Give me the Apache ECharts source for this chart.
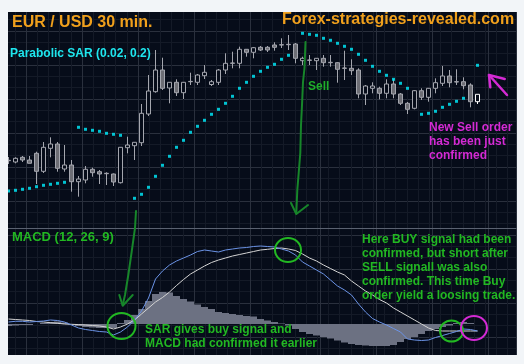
<!DOCTYPE html>
<html><head><meta charset="utf-8">
<script src="https://cdn.jsdelivr.net/npm/echarts/dist/echarts.min.js"></script>
<style>html,body{margin:0;padding:0;background:#f2f5f8;}#c{width:524px;height:364px;}</style>
</head><body><div id="c"></div>
<script>
// ---- DATA (EUR/USD 30 min) ----
const categories = Array.from({length: 73}, (_, i) => 'Bar ' + (i + 1));
const opens = [1.29673,1.29660,1.29707,1.29680,1.29747,1.29567,1.29797,1.29840,1.29590,1.29630,
1.29463,1.29480,1.29587,1.29563,1.29547,1.29540,1.29453,1.29803,1.29823,1.29853,
1.30140,1.30363,1.30580,1.30400,1.30457,1.30353,1.30463,1.30457,1.30523,1.30435,
1.30457,1.30580,1.30647,1.30647,1.30787,1.30757,1.30807,1.30807,1.30830,1.30830,
1.30837,1.30840,1.30673,1.30680,1.30673,1.30697,1.30653,1.30653,1.30597,1.30597,
1.30580,1.30340,1.30397,1.30397,1.30347,1.30440,1.30340,1.30247,1.30197,1.30373,
1.30307,1.30397,1.30447,1.30520,1.30463,1.30463,1.30430,1.30263];
const closes = [1.29677,1.29697,1.29680,1.29647,1.29567,1.29807,1.29840,1.29597,1.29630,1.29463,
1.29490,1.29587,1.29553,1.29540,1.29543,1.29460,1.29807,1.29830,1.29857,1.30147,
1.30370,1.30580,1.30397,1.30457,1.30353,1.30457,1.30466,1.30530,1.30557,1.30463,
1.30580,1.30647,1.30650,1.30787,1.30757,1.30803,1.30780,1.30780,1.30807,1.30833,
1.30833,1.30697,1.30697,1.30677,1.30697,1.30653,1.30657,1.30587,1.30600,1.30573,
1.30340,1.30420,1.30420,1.30347,1.30440,1.30340,1.30247,1.30187,1.30373,1.30307,
1.30397,1.30453,1.30520,1.30453,1.30460,1.30423,1.30263,1.30337];
const highs = [1.29710,1.29707,1.29720,1.29720,1.29763,1.29860,1.29907,1.29860,1.29830,1.29680,
1.29520,1.29620,1.29603,1.29580,1.29557,1.29545,1.29810,1.29913,1.29860,1.30240,
1.30530,1.30780,1.30703,1.30460,1.30487,1.30460,1.30553,1.30540,1.30630,1.30480,
1.30590,1.30747,1.30763,1.30813,1.30790,1.30810,1.30820,1.30820,1.30857,1.30897,
1.30930,1.30850,1.30713,1.30730,1.30700,1.30730,1.30730,1.30660,1.30773,1.30687,
1.30597,1.30430,1.30457,1.30413,1.30487,1.30487,1.30350,1.30260,1.30380,1.30397,
1.30400,1.30497,1.30620,1.30580,1.30587,1.30507,1.30447,1.30337];
const lows = [1.29640,1.29647,1.29660,1.29647,1.29440,1.29550,1.29707,1.29563,1.29563,1.29363,
1.29313,1.29447,1.29513,1.29440,1.29430,1.29420,1.29445,1.29747,1.29680,1.29820,
1.30120,1.30353,1.30380,1.30247,1.30320,1.30290,1.30430,1.30430,1.30490,1.30420,
1.30430,1.30540,1.30597,1.30597,1.30713,1.30697,1.30770,1.30760,1.30773,1.30800,
1.30780,1.30647,1.30630,1.30630,1.30580,1.30613,1.30613,1.30453,1.30480,1.30530,
1.30297,1.30230,1.30347,1.30287,1.30297,1.30297,1.30230,1.30140,1.30187,1.30280,
1.30263,1.30347,1.30420,1.30407,1.30430,1.30387,1.30207,1.30240];
// Parabolic SAR (0.02, 0.2)
const sar = [1.29370,1.29377,1.29387,1.29397,1.29413,1.29427,1.29437,1.29447,1.29457,null,
1.30007,1.29987,1.29977,1.29967,1.29947,1.29937,1.29927,null,1.29297,1.29337,
1.29407,1.29517,1.29627,1.29717,1.29807,1.29877,1.29957,1.30017,1.30077,1.30137,
1.30187,1.30247,1.30317,1.30397,1.30457,1.30517,1.30567,1.30607,1.30637,1.30687,
1.30727,null,1.30947,1.30937,1.30927,1.30897,1.30877,1.30847,1.30817,1.30787,
1.30737,1.30677,1.30617,1.30567,1.30527,1.30487,1.30447,1.30397,null,1.30137,
1.30147,1.30167,1.30207,1.30237,1.30267,1.30297,null,1.30627];
// MACD (12, 26, 9) in points (1 point = 0.00001)
const macdMain = [2,2.7,2.7,2,2.5,3,4,3.5,2,-1,
-4,-5.5,-6.5,-7.5,-8,-11,-8,-3,4,13,
26,45,53,59,63,66,69,72.5,74,73,
72,74,75,76,76.5,77.5,78,77.5,77,75,
73,69,62,58,54,50,44,38,34,29,
20,12,5.5,2,-1,-4.5,-8,-15,-16,-16.5,
-16,-13.5,-11.5,-9.5,-7.5,-5,-5.5,-7];
const macdSignal = [5,4.5,4,3.5,2.5,2,1.3,0.7,0,-0.3,
-0.6,-1,-1.5,-2,-3,-5,-3,0,4,10,
16,22,26.5,32,38.5,44.5,50,54,58,61.5,
64,66,68,69.5,71,72.5,74,74.7,75.5,76,
75,73.5,70,66,63,59,55.5,52,49,43,
38,33,29,24.5,21,16,12,8,4,0,
-4,-6.5,-7,-7,-7,-7,-7,-7];
const macdHist = [-2,-1.5,-1,-1,0,1,2,2.5,1.5,-0.5,
-2,-3,-3.5,-4,-4,-4,1,4,9,15,
23,30,32,31.5,28,25,22.5,19.5,17,15,
12,11,10,9,8,7.5,5,3.5,2,0.5,
-1.5,-5,-8,-10,-11.5,-13,-14.5,-16.5,-18.5,-20,
-21,-21.5,-22,-22,-22,-21,-18,-15,-13,-10,
-7,-5,-3,-1.5,1,2,1,0];

// ---- STYLE ----
const PANEL = '#060c19', PAGE = '#f2f5f8';
const MINOR = '#141a27', MAJOR = '#2a303d';
const GREEN = '#22b822', DKGREEN = '#17862a', MAGENTA = '#d42ad4', ORANGE = '#f0a01c';
const FONT = '"Liberation Sans", Arial, sans-serif';
const majorBars = new Set([3, 11, 19, 27, 35, 45, 53, 61, 69]);

const candleData = opens.map((o, i) => {
  const v = [o, closes[i], lows[i], highs[i]];
  if (i === opens.length - 1) return {value: v, itemStyle: {borderColor: '#ffffff', borderColor0: '#ffffff', color: PANEL, color0: PANEL}};
  return v;
});

const chart = echarts.init(document.getElementById('c'), null, {renderer: 'canvas'});
const hidden = {show: false};
const catAxisCommon = {
  type: 'category', data: categories, boundaryGap: true, z: 1,
  axisTick: hidden, axisLabel: hidden,
  splitLine: {show: true, interval: (idx) => majorBars.has(idx), lineStyle: {color: MAJOR, width: 1}}
};
function txt(text, x, y, fill, size, extra) {
  return Object.assign({type: 'text', z: 50, style: Object.assign({
    text, x, y, fill, font: 'bold ' + size + 'px ' + FONT, verticalAlign: 'middle', align: 'left'
  }, extra || {})});
}
function pline(points, stroke, w) {
  return {type: 'polyline', z: 50, shape: {points}, style: {stroke, lineWidth: w, fill: null, lineJoin: 'round', lineCap: 'round'}};
}
function ell(cx, cy, rx, ry, stroke) {
  return {type: 'ellipse', z: 50, shape: {cx, cy, rx, ry}, style: {stroke, lineWidth: 2, fill: null}};
}

chart.setOption({
  backgroundColor: PANEL,
  animation: false,
  grid: [
    {left: 5, top: 12, width: 511, height: 216},
    {left: 5, top: 228, width: 511, height: 127},
    {left: 3.6, top: 8.3333, width: 515.2, height: 351.3333}
  ],
  xAxis: [
    Object.assign({gridIndex: 0, axisLine: {show: true, onZero: false, lineStyle: {color: '#5a6170', width: 1}}}, catAxisCommon),
    Object.assign({gridIndex: 1, axisLine: hidden}, catAxisCommon),
    {type: 'value', gridIndex: 2, min: 0, max: 515.2, interval: 11.2, z: 0,
     axisLine: hidden, axisTick: hidden, axisLabel: hidden,
     splitLine: {show: true, lineStyle: {color: MINOR, width: 1}}}
  ],
  yAxis: [
    {type: 'value', gridIndex: 0, min: 1.2900, max: 1.3116, scale: true, show: false},
    {type: 'value', gridIndex: 1, min: -31, max: 96, show: false},
    {type: 'value', gridIndex: 2, min: 0, max: 351.3333, interval: 34 / 3, inverse: true, z: 0,
     axisLine: hidden, axisTick: hidden, axisLabel: hidden,
     splitLine: {show: true, lineStyle: {color: [MINOR, MINOR, MAJOR], width: 1}}}
  ],
  series: [
    {type: 'candlestick', xAxisIndex: 0, yAxisIndex: 0, data: candleData, barWidth: 4,
     itemStyle: {color: PANEL, color0: '#6d6e75', borderColor: '#a4a6ae', borderColor0: '#a4a6ae', borderColorDoji: '#a4a6ae', borderWidth: 1}},
    {type: 'scatter', xAxisIndex: 0, yAxisIndex: 0, data: sar, symbol: 'rect', symbolSize: 3,
     itemStyle: {color: '#00f0ff'}, z: 3},
    {type: 'bar', xAxisIndex: 1, yAxisIndex: 1, data: macdHist, barCategoryGap: '0%',
     itemStyle: {color: '#6c7182'}},
    {type: 'line', xAxisIndex: 1, yAxisIndex: 1, data: macdSignal, showSymbol: false,
     lineStyle: {color: '#d4d4d4', width: 1}, z: 3},
    {type: 'line', xAxisIndex: 1, yAxisIndex: 1, data: macdMain, showSymbol: false,
     lineStyle: {color: '#6b93e6', width: 1}, z: 4}
  ],
  graphic: {elements: [
    txt('EUR / USD 30 min.', 12, 22.7, ORANGE, 16),
    txt('Forex-strategies-revealed.com', 282, 20, ORANGE, 16),
    Object.assign(txt('Parabolic SAR (0.02, 0.2)', 10, 53.5, '#1ee6ee', 12), {}),
    txt('Sell', 308, 87, '#1fae2a', 12),
    txt('New Sell order\nhas been just\nconfirmed', 429, 120.7, MAGENTA, 12, {verticalAlign: 'top', lineHeight: 14}),
    txt('MACD (12, 26, 9)', 12, 237, GREEN, 13),
    txt('Here BUY signal had been\nconfirmed, but short after\nSELL signall was also\nconfirmed. This time Buy\norder yield a loosing trade.', 362, 232.2, GREEN, 12, {verticalAlign: 'top', lineHeight: 14.2}),
    txt('SAR gives buy signal and\nMACD had confirmed it earlier', 145, 323, GREEN, 12, {verticalAlign: 'top', lineHeight: 14}),
    pline([[305.5,42],[304.5,68],[303,82],[302,105],[301,125],[300.3,153],[298.7,173],[297.3,190],[296.3,213]], DKGREEN, 2),
    pline([[291,203],[296.3,214],[308,205]], DKGREEN, 2),
    pline([[136,211],[135,228],[131.7,251.7],[128.3,275],[125,295],[122.7,305]], DKGREEN, 2),
    pline([[119.3,295],[122.7,305.7],[132.7,295]], DKGREEN, 2),
    ell(121.5, 326, 14, 13, GREEN),
    ell(288, 250, 13, 12, GREEN),
    ell(451.5, 331, 11.5, 10.5, GREEN),
    ell(474, 328, 13, 12, MAGENTA),
    pline([[507,95],[489,75]], MAGENTA, 2.5),
    pline([[504.7,79],[489,75],[490.3,87.3]], MAGENTA, 2.5),
    {type: 'rect', z: 100, shape: {x: 0, y: 0, width: 8, height: 364}, style: {fill: PAGE}},
    {type: 'rect', z: 100, shape: {x: 517, y: 0, width: 7, height: 364}, style: {fill: PAGE}},
    {type: 'rect', z: 100, shape: {x: 0, y: 0, width: 524, height: 12}, style: {fill: PAGE}},
    {type: 'rect', z: 100, shape: {x: 0, y: 355, width: 524, height: 9}, style: {fill: PAGE}}
  ]}
});
</script></body></html>
